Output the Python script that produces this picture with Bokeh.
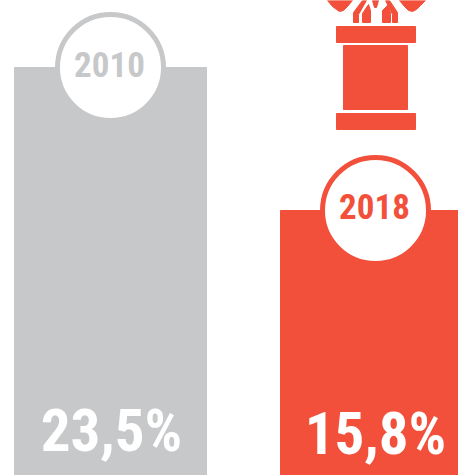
from bokeh.plotting import figure
from bokeh.models import Range1d
from bokeh.core.properties import value
from bokeh.embed import file_html
from bokeh.resources import INLINE

years = ["2010", "2018"]
shares = [23.5, 15.8]
labels = ["23,5%", "15,8%"]
colors = ["#c7c8ca", "#f2503b"]

W, H = 458, 475
PX_PER_UNIT = 18.57
BASE = 1.53
p = figure(width=W, height=H, output_backend="svg", toolbar_location=None,
           x_range=Range1d(0, W), y_range=Range1d(BASE, BASE + H / PX_PER_UNIT),
           min_border=0, outline_line_color=None, background_fill_color="white",
           border_fill_color="white")
p.axis.visible = False
p.grid.visible = False
p.extra_y_ranges["px"] = Range1d(H, 0)

cx_bar = [110, 369]
bw = [192, 178]
p.vbar(x=cx_bar, width=bw, bottom=0, top=shares, color=colors)

cx = [110, 375]
cy = [67, 210]
p.circle(x=cx, y=cy, radius=53, y_range_name="px", fill_color="white",
         line_color=colors, line_width=5)
p.text(x=[109, 374], y=[64, 206], text=years, y_range_name="px", text_color=colors,
       text_font=value("Roboto Condensed"), text_font_style="bold",
       text_font_size="35px", text_align="center", text_baseline="middle")
p.text(x=[111, 375], y=[430, 433], text=labels, y_range_name="px", text_color="white",
       text_font=value("Roboto Condensed"), text_font_style="bold",
       text_font_size="59px", text_align="center", text_baseline="middle")

# pedestal icon, with the flame cropped by the top edge
ic = colors[1]
p.quad(left=[336, 343, 336], right=[415, 407, 415], top=[26, 45, 113], bottom=[42, 109, 129],
       y_range_name="px", color=ic)
flame_x = [
    [327, 332, 336, 339, 343, 347, 352],
    [353, 353, 362, 366, 358, 358],
    [362, 362, 368, 370, 370],
    [372, 378, 376, 374],
    [382, 382, 388, 390, 390],
    [392, 392, 385, 389, 397, 397],
    [399, 404, 408, 412, 416, 420, 425],
]
flame_y = [
    [0, 6, 9, 11, 10, 6, 0],
    [22, 12, 0, 0, 14, 22],
    [22, 13, 4, 10, 22],
    [0, 0, 7, 7],
    [22, 10, 4, 13, 22],
    [22, 14, 0, 0, 12, 22],
    [0, 6, 10, 11, 9, 5, 0],
]
p.patches(flame_x, flame_y, y_range_name="px", color=ic)

open("out.html", "w").write(file_html(p, INLINE))
